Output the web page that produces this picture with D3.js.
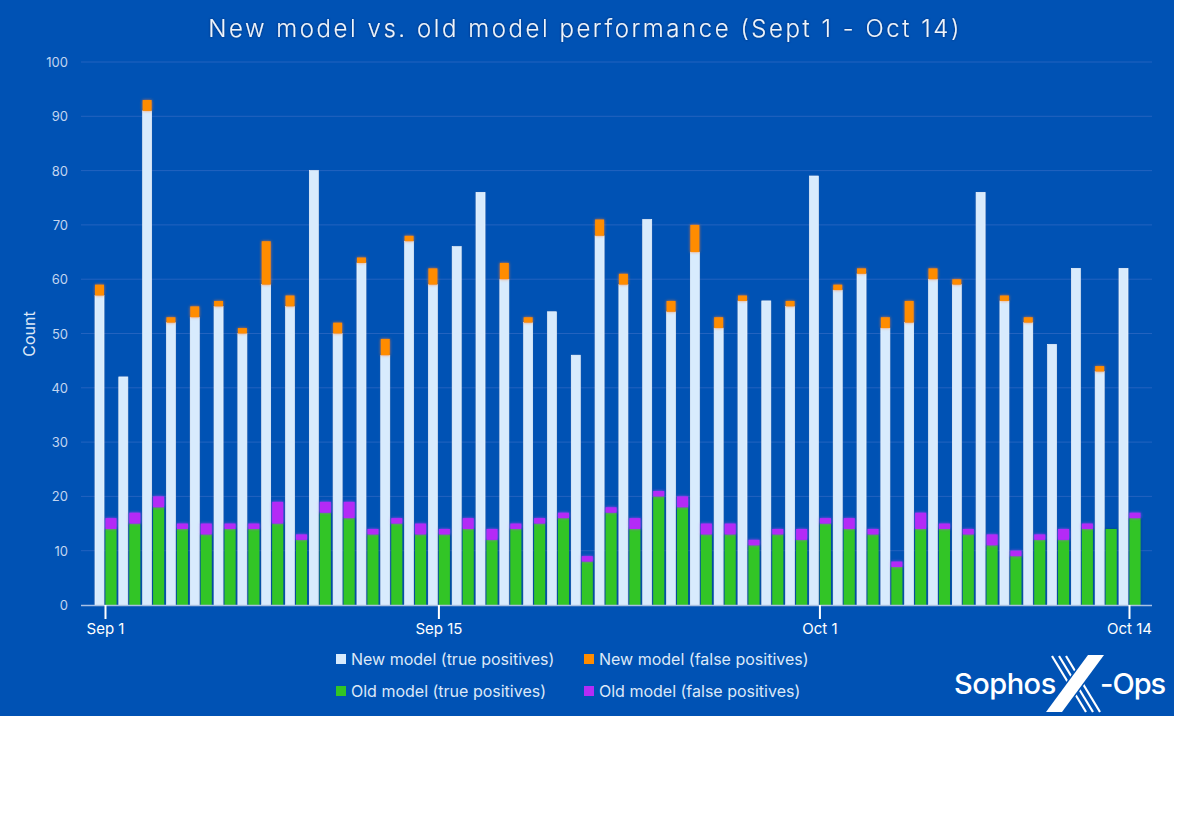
<!DOCTYPE html>
<html><head><meta charset="utf-8">
<script src="https://cdn.jsdelivr.net/npm/d3@7/dist/d3.min.js"></script>
<style>
html,body{margin:0;padding:0;background:#fff;}
svg{display:block;font-family:Inter,"Open Sans",sans-serif;}
</style></head>
<body>
<svg id="chart" width="1200" height="823"></svg>
<script>
const startDate = "2023-09-01";
const newTP = [57,42,91,52,53,55,50,59,55,80,50,63,46,67,59,66,76,60,52,54,46,68,59,71,54,65,51,56,56,55,79,58,61,51,52,60,59,76,56,52,48,62,43,62];
const newFP = [2,0,2,1,2,1,1,8,2,0,2,1,3,1,3,0,0,3,1,0,0,3,2,0,2,5,2,1,0,1,0,1,1,2,4,2,1,0,1,1,0,0,1,0];
const oldTP = [14,15,18,14,13,14,14,15,12,17,16,13,15,13,13,14,12,14,15,16,8,17,14,20,18,13,13,11,13,12,15,14,13,7,14,14,13,11,9,12,12,14,14,16];
const oldFP = [2,2,2,1,2,1,1,4,1,2,3,1,1,2,1,2,2,1,1,1,1,1,2,1,2,2,2,1,1,2,1,2,1,1,3,1,1,2,1,1,2,1,0,1];
const yTicks = [0,10,20,30,40,50,60,70,80,90,100];
const xTickDates = ["2023-09-01","2023-09-15","2023-10-01","2023-10-14"];
const xTickLabels = ["Sep 1","Sep 15","Oct 1","Oct 14"];
const seriesNames = ["New model (true positives)","New model (false positives)","Old model (true positives)","Old model (false positives)"];
const seriesColors = ["#d8ebfd","#ff8c00","#32c525","#b42cf6"];
const title = "New model vs. old model performance (Sept 1 - Oct 14)";

const parse = d3.utcParse("%Y-%m-%d");
const d0 = parse(startDate);
const dates = newTP.map((_, i) => d3.utcDay.offset(d0, i));
const rows = dates.map((d, i) => ({date: d, newTP: newTP[i], newFP: newFP[i], oldTP: oldTP[i], oldFP: oldFP[i]}));

const svg = d3.select("#chart");
const defs = svg.append("defs");
function glow(id, color, sd, op){
  const f = defs.append("filter").attr("id", id).attr("x","-60%").attr("y","-60%").attr("width","220%").attr("height","220%");
  f.append("feDropShadow").attr("dx",0).attr("dy",0).attr("stdDeviation",sd).attr("flood-color",color).attr("flood-opacity",op);
}
glow("gOrange","#ff7a2a",1.8,0.8);
glow("gPurple","#c040ff",1.8,0.8);
glow("gGreen","#0b3a52",1.1,0.8);
glow("gNew","#2a5fa8",0.8,0.6);
glow("gTitle","#002a66",1.2,0.9);

// background panel
svg.append("rect").attr("x",0).attr("y",0).attr("width",1174).attr("height",716).attr("fill","#0052b4");

const x = d3.scaleUtc().domain([parse("2023-09-01"), parse("2023-10-14")]).range([105, 1129]);
const y = d3.scaleLinear().domain([0,100]).range([605, 62]);
const plotL = 81, plotR = 1152;

// gridlines
svg.append("g").selectAll("line").data(yTicks.filter(t=>t>0)).join("line")
  .attr("x1",plotL).attr("x2",plotR).attr("y1",d=>y(d)).attr("y2",d=>y(d))
  .attr("stroke","#2363bf").attr("stroke-width",1);

// y axis labels
const yAxis = d3.axisLeft(y).tickValues(yTicks).tickSize(0).tickPadding(0);
const gy = svg.append("g").attr("transform",`translate(68,0)`).call(yAxis);
gy.select(".domain").remove();
gy.selectAll("text").attr("fill","#c2d5f0").attr("font-size",13).attr("font-family","Inter, sans-serif").attr("dy","0.35em");

svg.append("text").attr("transform","translate(35,334) rotate(-90)").attr("text-anchor","middle")
  .attr("fill","#dce8f8").attr("font-size",16).text("Count");

// bars
const wNew = 9, wOld = 11;
const gBars = svg.append("g");
gBars.selectAll("rect.ntp").data(rows).join("rect").attr("class","ntp")
  .attr("x",d=>x(d.date)-10).attr("width",wNew)
  .attr("y",d=>y(d.newTP)).attr("height",d=>y(0)-y(d.newTP))
  .attr("fill",seriesColors[0]).attr("stroke","#f2f9ff").attr("stroke-width",0.6).attr("filter","url(#gNew)");
gBars.selectAll("rect.nfp").data(rows.filter(d=>d.newFP>0)).join("rect").attr("class","nfp")
  .attr("x",d=>x(d.date)-10).attr("width",wNew)
  .attr("y",d=>y(d.newTP+d.newFP)).attr("height",d=>y(d.newTP)-y(d.newTP+d.newFP))
  .attr("fill",seriesColors[1]).attr("filter","url(#gOrange)");
gBars.selectAll("rect.otp").data(rows).join("rect").attr("class","otp")
  .attr("x",d=>x(d.date)+0.5).attr("width",wOld)
  .attr("y",d=>y(d.oldTP)).attr("height",d=>y(0)-y(d.oldTP))
  .attr("fill",seriesColors[2]).attr("filter","url(#gGreen)");
gBars.selectAll("rect.ofp").data(rows.filter(d=>d.oldFP>0)).join("rect").attr("class","ofp")
  .attr("x",d=>x(d.date)+0.5).attr("width",wOld)
  .attr("y",d=>y(d.oldTP+d.oldFP)).attr("height",d=>y(d.oldTP)-y(d.oldTP+d.oldFP))
  .attr("fill",seriesColors[3]).attr("filter","url(#gPurple)");

// baseline
svg.append("line").attr("x1",plotL).attr("x2",plotR).attr("y1",y(0)+0.5).attr("y2",y(0)+0.5)
  .attr("stroke","#a8c0e4").attr("stroke-width",1.5);

// x axis
const xAxis = d3.axisBottom(x).tickValues(xTickDates.map(parse)).tickFormat((d,i)=>xTickLabels[i]).tickSize(14).tickPadding(4);
const gx = svg.append("g").attr("transform",`translate(0,${y(0)})`).call(xAxis);
gx.select(".domain").remove();
gx.selectAll(".tick line").attr("stroke","#ffffff").attr("stroke-width",2);
gx.selectAll("text").attr("fill","#ffffff").attr("font-size",15).attr("font-family","Inter, sans-serif");

// title
svg.append("text").attr("x",585).attr("y",37).attr("text-anchor","middle")
  .attr("fill","#eef4fc").attr("font-size",24).attr("font-weight",300).attr("letter-spacing",2.55)
  .attr("filter","url(#gTitle)").text(title);

// legend
const legPos = [[336,659],[584,659],[336,691],[584,691]];
const leg = svg.append("g");
seriesNames.forEach((n,i)=>{
  const [lx,ly] = legPos[i];
  leg.append("rect").attr("x",lx).attr("y",ly-5).attr("width",10).attr("height",10).attr("fill",seriesColors[i]);
  leg.append("text").attr("x",lx+15).attr("y",ly).attr("dy","0.35em").attr("fill","#dce8f8")
    .attr("font-size",16).text(n);
});

// logo
const logo = svg.append("g");
logo.append("text").attr("x",954).attr("y",694).attr("fill","#fff").attr("font-size",29).attr("font-weight",500)
  .attr("font-family","Inter, Arial, sans-serif").attr("letter-spacing",-0.5).text("Sophos");
[0,7,14].forEach(o=>{
  logo.append("line").attr("x1",1052+o).attr("y1",656).attr("x2",1086+o).attr("y2",712)
    .attr("stroke","#fff").attr("stroke-width",2.2);
});
logo.append("polygon").attr("points","1088,655 1104,655 1062,712 1046,712").attr("fill","#fff")
  .attr("stroke","#0052b4").attr("stroke-width",3).attr("paint-order","stroke");
logo.append("text").attr("x",1100).attr("y",694).attr("fill","#fff").attr("font-size",29).attr("font-weight",500)
  .attr("font-family","Inter, Arial, sans-serif").attr("letter-spacing",-1).text("-Ops");
</script>
</body></html>
